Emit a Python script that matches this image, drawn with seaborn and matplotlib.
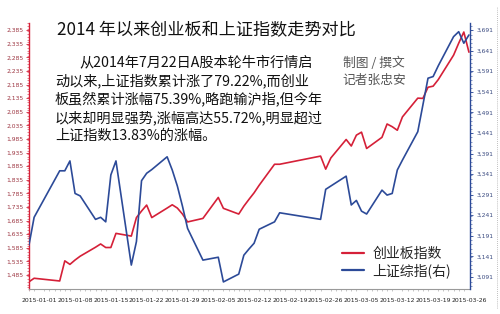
import matplotlib
matplotlib.use("Agg")
import matplotlib.pyplot as plt
import matplotlib.dates as mdates
from matplotlib.ticker import FixedLocator, MultipleLocator, FuncFormatter
from matplotlib.lines import Line2D
import seaborn as sns
import pandas as pd

# ---- data ----
dates = ["2014-12-30", "2014-12-31",
         "2015-01-05", "2015-01-06", "2015-01-07", "2015-01-08", "2015-01-09",
         "2015-01-12", "2015-01-13", "2015-01-14", "2015-01-15", "2015-01-16",
         "2015-01-19", "2015-01-20", "2015-01-21", "2015-01-22", "2015-01-23",
         "2015-01-26", "2015-01-27", "2015-01-28", "2015-01-29", "2015-01-30",
         "2015-02-02", "2015-02-05", "2015-02-06",
         "2015-02-09", "2015-02-10", "2015-02-11", "2015-02-12", "2015-02-13",
         "2015-02-16", "2015-02-17",
         "2015-02-25", "2015-02-26", "2015-02-27",
         "2015-03-02", "2015-03-03", "2015-03-04", "2015-03-05", "2015-03-06",
         "2015-03-09", "2015-03-10", "2015-03-11", "2015-03-12", "2015-03-13",
         "2015-03-16", "2015-03-17", "2015-03-18", "2015-03-19", "2015-03-20",
         "2015-03-23", "2015-03-24", "2015-03-25", "2015-03-26"]

chinext = [1460, 1473,
           1463, 1537, 1524, 1540, 1554,
           1587, 1599, 1586, 1586, 1638,
           1628, 1696, 1720, 1742, 1696,
           1731, 1743, 1731, 1709, 1680,
           1693, 1770, 1730,
           1709, 1738, 1763, 1787, 1815,
           1892, 1892,
           1922, 1874, 1915,
           1983, 1959, 1999, 2010, 1950,
           1991, 2040, 2030, 2017, 2066,
           2135, 2134, 2175, 2179, 2203,
           2293, 2337, 2378, 2304]

shanghai = [3169, 3236,
            3349, 3349, 3373, 3294, 3288,
            3231, 3236, 3225, 3339, 3373,
            3120, 3177, 3325, 3343, 3352,
            3383, 3351, 3312, 3263, 3209,
            3132, 3139, 3079,
            3098, 3144, 3159, 3173, 3207,
            3225, 3247,
            3231, 3304, 3312,
            3336, 3266, 3277, 3251, 3244,
            3302, 3290, 3294, 3351, 3375,
            3444, 3509, 3574, 3578, 3604,
            3675, 3687, 3659, 3679]

left_ticks = [1485, 1535, 1585, 1635, 1685, 1735, 1785, 1835, 1885, 1935,
              1985, 2035, 2085, 2135, 2185, 2235, 2285, 2335, 2385]
right_ticks = [3091, 3141, 3191, 3241, 3291, 3341, 3391, 3441, 3491, 3541,
               3591, 3641, 3691]

title = "2014 年以来创业板和上证指数走势对比"
body_lines = ["从2014年7月22日A股本轮牛市行情启",
              "动以来,上证指数累计涨了79.22%,而创业",
              "板虽然累计涨幅75.39%,略跑输沪指,但今年",
              "以来却明显强势,涨幅高达55.72%,明显超过",
              "上证指数13.83%的涨幅。"]
credit_lines = ["制图 / 撰文", "记者张忠安"]
label_red = "创业板指数"
label_blue = "上证综指(右)"

# ---- style ----
sns.set_style("white")
plt.rcParams['font.family'] = ['Noto Sans CJK SC', 'DejaVu Sans']

RED = "#d52038"
BLUE = "#2c4a98"
RED_TXT = "#9c3440"
BLUE_TXT = "#3a4a80"

df = pd.DataFrame({"date": pd.to_datetime(dates),
                   "chinext": chinext, "shanghai": shanghai})

fig = plt.figure(figsize=(5.0, 3.14), dpi=100)
ax = fig.add_axes([0.058, 0.0796, 0.882, 0.847])
ax2 = ax.twinx()

sns.lineplot(data=df, x="date", y="chinext", ax=ax, color=RED, lw=1.2, label=label_red, legend=False)
sns.lineplot(data=df, x="date", y="shanghai", ax=ax2, color=BLUE, lw=1.2, label=label_blue, legend=False)

ax.set_xlim(pd.Timestamp("2014-12-30"), pd.Timestamp("2015-03-26 05:00"))
ax.set_ylim(1433.5, 2411)
ax2.set_ylim(3061.8, 3708)

ax.set_xlabel("")
ax.set_ylabel("")
ax2.set_ylabel("")

fmt = FuncFormatter(lambda v, p: f"{int(round(v)):,}")
ax.yaxis.set_major_locator(FixedLocator(left_ticks))
ax.yaxis.set_major_formatter(fmt)
ax.yaxis.set_minor_locator(MultipleLocator(10))
ax2.yaxis.set_major_locator(FixedLocator(right_ticks))
ax2.yaxis.set_major_formatter(fmt)
ax2.yaxis.set_minor_locator(MultipleLocator(10))

ax.xaxis.set_major_locator(mdates.WeekdayLocator(byweekday=mdates.TH))
ax.xaxis.set_major_formatter(mdates.DateFormatter("%Y-%m-%d"))
ax.xaxis.set_minor_locator(mdates.DayLocator())

for a in (ax, ax2):
    a.spines['top'].set_visible(False)
ax.spines['left'].set_color(RED)
ax.spines['left'].set_linewidth(1.0)
ax2.spines['right'].set_color(BLUE)
ax2.spines['right'].set_linewidth(1.0)
ax2.spines['left'].set_visible(False)
ax.spines['right'].set_visible(False)
ax2.spines['bottom'].set_visible(False)
ax.spines['bottom'].set_color("#9a9a9a")
ax.spines['bottom'].set_linewidth(0.8)

ax.tick_params(axis='y', which='major', length=2.5, width=0.6, color=RED,
               labelsize=4.3, labelcolor=RED_TXT, pad=1.5, direction='out')
ax.tick_params(axis='y', which='minor', length=1.2, width=0.4, color=RED, left=True)
ax2.tick_params(axis='y', which='major', length=2.5, width=0.6, color=BLUE,
                labelsize=4.3, labelcolor=BLUE_TXT, pad=2.5, direction='out')
ax2.tick_params(axis='y', which='minor', length=1.2, width=0.4, color=BLUE, right=True)
ax.tick_params(axis='x', which='major', length=2.5, width=0.6, color="#888888",
               labelsize=4.4, labelcolor="#222222", pad=4)
ax.tick_params(axis='x', which='minor', length=1.3, width=0.4, color="#999999", bottom=True)
for lab in ax.get_xticklabels() + ax.get_yticklabels() + ax2.get_yticklabels():
    lab.set_fontfamily("DejaVu Sans")

# title and text
fig.text(0.114, 1 - 30 / 314, title, fontsize=12.3, color="#111111",
         ha="left", va="center", fontweight="medium")
line_y = [62, 80.5, 99, 117.5, 136]
for i, (txt, y) in enumerate(zip(body_lines, line_y)):
    x0 = 79 if i == 0 else 55
    fig.text(x0 / 500, 1 - y / 314, txt, fontsize=10.2, color="#111111",
             ha="left", va="center", fontweight="medium")
for txt, y in zip(credit_lines, [63, 80]):
    fig.text(374 / 500, 1 - y / 314, txt, fontsize=9.2, color="#555555",
             ha="center", va="center")

# legend
h1 = Line2D([], [], color=RED, lw=1.6)
h2 = Line2D([], [], color=BLUE, lw=1.6)
leg = fig.legend([h1, h2], [label_red, label_blue], loc="center left",
                 bbox_to_anchor=(338 / 500, 1 - 262.5 / 314), frameon=True,
                 fontsize=10, handlelength=1.6, handletextpad=0.6,
                 labelspacing=0.15, borderpad=0.3, framealpha=1,
                 edgecolor="none", facecolor="white", borderaxespad=0)

# dotted frame at the right edge
fig.add_artist(Line2D([497 / 500, 497 / 500], [0.02, 0.98], transform=fig.transFigure,
                      color="#aaaaaa", lw=0.6, ls=(0, (1, 1.5))))

fig.savefig("out.png", dpi=100)
